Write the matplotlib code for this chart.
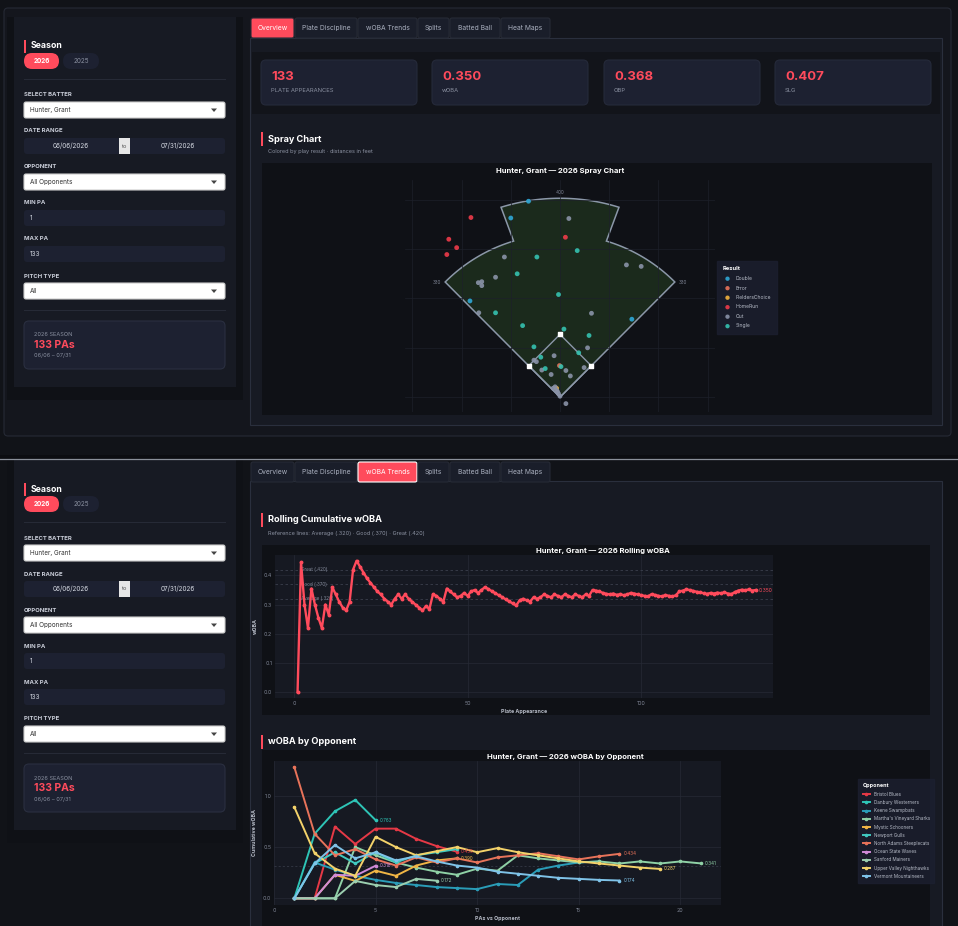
import numpy as np
import matplotlib.pyplot as plt
from matplotlib.patches import FancyBboxPatch, Rectangle, Polygon

plt.rcParams['font.family'] = ['Inter', 'DejaVu Sans']

W, H = 958, 926
BG = '#111318'
PANEL = '#171a23'
CARD = '#1d2131'
PLOT = '#161922'
RED = '#ff4b5c'
GRID = '#262a36'
TXT = '#d6dae3'
MUTED = '#8a90a0'

# ---------------- data ----------------
stat_values = ['133', '0.350', '0.368', '0.407']
stat_labels = ['PLATE APPEARANCES', 'wOBA', 'OBP', 'SLG']
tabs = ['Overview', 'Plate Discipline', 'wOBA Trends', 'Splits', 'Batted Ball', 'Heat Maps']

# spray chart hit locations (feet, home plate at origin)
results = ['Double', 'Error', 'FieldersChoice', 'HomeRun', 'Out', 'Single']
result_colors = ['#2fa8d6', '#e8735a', '#f2b33d', '#ef3b4a', '#8a93a8', '#35c2b0']
hr_x = [-181, -226, -210, -230, 11]
hr_y = [364, 320, 303, 289, 324]
dbl_x = [-64, -100, -183, 146]
dbl_y = [397, 363, 195, 158]
sgl_x = [35, -47, -87, -3, -131, -76, 8, 59, -53, 38, -39, 2, -30]
sgl_y = [297, 284, 250, 208, 171, 145, 138, 125, 102, 90, 81, 62, 58]
out_x = [18, -113, 135, 165, -131, -166, -159, -159, -165, 64, 56, -12, -48, -53, -37, 12, 21, -18, 49,
         -10, -7, -3, 0, -5, -14, 12]
out_y = [362, 284, 268, 265, 243, 232, 234, 226, 171, 170, 100, 84, 72, 75, 55, 54, 43, 46, 60,
         21, 14, 7, 2, 11, 18, -13]
err_x = [-1]
err_y = [64]
fc_x = [-7]
fc_y = [18]

# rolling cumulative wOBA by plate appearance
rolling_woba = [0.0, 0.445, 0.30, 0.22, 0.355, 0.30, 0.255, 0.22, 0.30, 0.265,
                0.36, 0.335, 0.31, 0.29, 0.28, 0.31, 0.42, 0.45, 0.43, 0.41,
                0.39, 0.375, 0.36, 0.345, 0.335, 0.32, 0.31, 0.30, 0.32, 0.335,
                0.32, 0.335, 0.32, 0.31, 0.30, 0.29, 0.28, 0.295, 0.285, 0.335,
                0.33, 0.32, 0.31, 0.355, 0.345, 0.335, 0.325, 0.33, 0.34, 0.33,
                0.345, 0.35, 0.34, 0.35, 0.36, 0.353, 0.346, 0.339, 0.332, 0.325,
                0.318, 0.311, 0.304, 0.297, 0.315, 0.32, 0.315, 0.31, 0.325, 0.32,
                0.325, 0.335, 0.33, 0.325, 0.335, 0.33, 0.325, 0.335, 0.33, 0.325,
                0.335, 0.33, 0.325, 0.335, 0.33, 0.35, 0.348, 0.345, 0.34, 0.337,
                0.335, 0.338, 0.333, 0.336, 0.332, 0.335, 0.34, 0.338, 0.335, 0.332,
                0.33, 0.328, 0.336, 0.333, 0.33, 0.328, 0.333, 0.33, 0.328, 0.332,
                0.345, 0.348, 0.352, 0.35, 0.347, 0.344, 0.342, 0.339, 0.337, 0.34,
                0.338, 0.341, 0.339, 0.342, 0.338, 0.336, 0.343, 0.348, 0.351, 0.349,
                0.352, 0.348, 0.350]
ref_vals = [0.32, 0.37, 0.42]
ref_names = ['Average (.320)', 'Good (.370)', 'Great (.420)']

# cumulative wOBA vs each opponent
opponents = ['Bristol Blues', 'Danbury Westerners', 'Keene Swampbats', "Martha's Vineyard Sharks",
             'Mystic Schooners', 'Newport Gulls', 'North Adams Steeplecats', 'Ocean State Waves',
             'Sanford Mainers', 'Upper Valley Nighthawks', 'Vermont Mountaineers']
opp_colors = ['#e63946', '#2ec4b6', '#2a9db8', '#8fd1a6', '#f0b545', '#40c9c0', '#e8735a',
              '#d08ad8', '#9ccfb0', '#f3d26a', '#7fc3e8']
opp_woba = [
    [0.0, 0.0, 0.70, 0.53, 0.68, 0.68, 0.58, 0.51, 0.455],
    [0.0, 0.63, 0.85, 0.96, 0.763],
    [0.0, 0.35, 0.28, 0.22, 0.18, 0.15, 0.13, 0.11, 0.10, 0.09, 0.14, 0.13, 0.28, 0.32, 0.35, 0.36],
    [0.0, 0.0, 0.0, 0.50, 0.42, 0.35, 0.30, 0.26, 0.23, 0.29, 0.27, 0.42, 0.39, 0.37, 0.35, 0.36,
     0.34, 0.36, 0.34, 0.36, 0.341],
    [0.0, 0.0, 0.23, 0.17, 0.27, 0.22, 0.32, 0.37, 0.39],
    [0.0, 0.34, 0.45, 0.34, 0.45, 0.35, 0.42, 0.45, 0.48],
    [1.28, 0.63, 0.42, 0.48, 0.38, 0.32, 0.40, 0.35, 0.39, 0.35, 0.40, 0.42, 0.44, 0.41, 0.38,
     0.41, 0.434],
    [0.0, 0.0, 0.23, 0.22, 0.318],
    [0.0, 0.0, 0.0, 0.17, 0.13, 0.11, 0.19, 0.172],
    [0.89, 0.44, 0.29, 0.22, 0.60, 0.50, 0.42, 0.46, 0.50, 0.45, 0.49, 0.45, 0.42, 0.39, 0.36,
     0.34, 0.32, 0.30, 0.287],
    [0.0, 0.34, 0.52, 0.39, 0.45, 0.37, 0.41, 0.36, 0.32, 0.30, 0.26, 0.24, 0.22, 0.20, 0.19,
     0.18, 0.174],
]
opp_end_labels = ['0.455', '0.763', None, '0.341', '0.390', None, '0.434', '0.318', '0.172',
                  '0.287', '0.174']


def R(x, y, w, h):
    return [x / W, 1 - (y + h) / H, w / W, h / H]


def box(ax, x, y, w, h, fc, ec='none', r=3, lw=0.8, z=1):
    ax.add_patch(FancyBboxPatch((x, y), w, h, boxstyle=f'round,pad=0,rounding_size={r}',
                                fc=fc, ec=ec, lw=lw, zorder=z))


fig = plt.figure(figsize=(W / 100, H / 100), dpi=100, facecolor=BG)
ui = fig.add_axes([0, 0, 1, 1])
ui.set_xlim(0, W)
ui.set_ylim(H, 0)
ui.axis('off')


def sidebar(dy, z):
    ui.add_patch(Rectangle((24, 40 + dy), 2, 13, fc=RED, zorder=z))
    ui.text(31, 46 + dy, 'Season', color='white', fontsize=6.3, weight='bold', va='center', zorder=z + 1)
    box(ui, 24, 53 + dy, 35, 16, RED, r=8, z=z)
    ui.text(41.5, 61 + dy, '2026', color='white', fontsize=4.6, ha='center', va='center',
            weight='bold', zorder=z + 1)
    box(ui, 63, 53 + dy, 36, 16, CARD, r=8, z=z)
    ui.text(81, 61 + dy, '2025', color=MUTED, fontsize=4.6, ha='center', va='center', zorder=z + 1)
    ui.plot([24, 225], [79 + dy, 79 + dy], color='#272b37', lw=0.7, zorder=z)
    for lab, yy in [('SELECT BATTER', 95), ('DATE RANGE', 131), ('OPPONENT', 167), ('MIN PA', 203),
                    ('MAX PA', 239), ('PITCH TYPE', 276)]:
        ui.text(24, yy + dy, lab, color='#c9cdd8', fontsize=4.3, va='center', weight='bold', zorder=z + 1)
    for txt, yy in [('Hunter, Grant', 102), ('All Opponents', 174), ('All', 283)]:
        box(ui, 24, yy + dy, 201, 16, 'white', ec='#cccccc', r=2, z=z)
        ui.text(30, yy + 8 + dy, txt, color='#333', fontsize=4.6, va='center', zorder=z + 1)
        ui.add_patch(Polygon([[211, yy + 6.5 + dy], [217, yy + 6.5 + dy], [214, yy + 10 + dy]],
                             fc='#444', zorder=z + 1))
    box(ui, 24, 138 + dy, 201, 16, CARD, r=3, z=z)
    ui.add_patch(Rectangle((119, 138 + dy), 11, 16, fc='#e6e6e6', zorder=z + 1))
    ui.text(124.5, 146 + dy, 'to', color='#555', fontsize=4.3, ha='center', va='center', zorder=z + 2)
    ui.text(71, 146 + dy, '06/06/2026', color=TXT, fontsize=4.6, ha='center', va='center', zorder=z + 2)
    ui.text(178, 146 + dy, '07/31/2026', color=TXT, fontsize=4.6, ha='center', va='center', zorder=z + 2)
    for txt, yy in [('1', 210), ('133', 246)]:
        box(ui, 24, yy + dy, 201, 16, CARD, r=3, z=z)
        ui.text(30, yy + 8 + dy, txt, color=TXT, fontsize=4.6, va='center', zorder=z + 2)
    ui.plot([24, 225], [310 + dy, 310 + dy], color='#272b37', lw=0.7, zorder=z)
    box(ui, 24, 321 + dy, 201, 48, CARD, ec='#2a2f40', r=5, z=z)
    ui.text(34, 335 + dy, '2026 SEASON', color=MUTED, fontsize=4.0, va='center', zorder=z + 2)
    ui.text(34, 345 + dy, '133 PAs', color=RED, fontsize=7.5, weight='bold', va='center', zorder=z + 2)
    ui.text(34, 356 + dy, '06/06 – 07/31', color=MUTED, fontsize=4.0, va='center', zorder=z + 2)


def tabbar(y0, active, outline):
    edges = [251, 295, 358, 418, 450, 501, 551]
    for i, t in enumerate(tabs):
        x0, x1 = edges[i], edges[i + 1] - 1
        act = i == active
        box(ui, x0, y0, x1 - x0, 20, RED if act else '#1a1e2a',
            ec='white' if (act and outline) else '#262a35', r=2, z=5)
        ui.text((x0 + x1) / 2, y0 + 10, t, color='white' if act else '#aab0bf', fontsize=4.8,
                ha='center', va='center', zorder=6)


def header(x, y, title, sub=None):
    ui.add_patch(Rectangle((x, y - 7), 2, 14, fc=RED, zorder=5))
    ui.text(x + 7, y, title, color='white', fontsize=6.6, weight='bold', va='center', zorder=5)
    if sub:
        ui.text(x + 7, y + 13, sub, color=MUTED, fontsize=4.0, va='center', zorder=5)


# ---- top screenshot ----
box(ui, 4, 8, 947, 428, '#14161d', ec='#262a35', r=4)
ui.add_patch(Rectangle((7, 17), 236, 383, fc='#0f1116', zorder=1))
ui.add_patch(Rectangle((14, 17), 222, 370, fc=PANEL, zorder=1))
sidebar(0, 2)
ui.add_patch(Rectangle((250, 38), 692, 387, fc=PANEL, ec='#2a2f3d', lw=0.8, zorder=1))
tabbar(18, 0, False)
ui.add_patch(Rectangle((252, 52), 688, 62, fc='#12141a', zorder=1))
for i, x0 in enumerate([261, 432, 604, 775]):
    box(ui, x0, 60, 156, 45, CARD, ec='#252a3a', r=5, z=2)
    ui.text(x0 + 10, 77, stat_values[i], color=RED, fontsize=9.5, weight='bold', va='center', zorder=3)
    ui.text(x0 + 10, 91, stat_labels[i], color=MUTED, fontsize=4.2, va='center', zorder=3)
header(261, 139, 'Spray Chart', 'Colored by play result · distances in feet')
ui.add_patch(Rectangle((262, 163), 670, 252, fc='#0f1116', zorder=1))
ui.text(560, 171, 'Hunter, Grant — 2026 Spray Chart', color='white', fontsize=5.5, weight='bold',
        ha='center', va='center', zorder=3)

# ---- separator ----
ui.add_patch(Rectangle((0, 455), W, 4, fc='#0c0d11', zorder=2))
ui.plot([0, W], [459, 459], color='#8a8f99', lw=0.9, zorder=3)

# ---- bottom screenshot ----
ui.add_patch(Rectangle((7, 460), 236, 383, fc='#0f1116', zorder=2))
ui.add_patch(Rectangle((14, 460), 222, 370, fc=PANEL, zorder=2))
sidebar(443, 3)
ui.add_patch(Rectangle((250, 481), 692, 450, fc=PANEL, ec='#2a2f3d', lw=0.8, zorder=2))
tabbar(462, 2, True)
header(261, 520, 'Rolling Cumulative wOBA',
       'Reference lines: Average (.320) · Good (.370) · Great (.420)')
header(261, 742, 'wOBA by Opponent')
ui.add_patch(Rectangle((262, 545), 668, 170, fc='#0f1116', zorder=3))
ui.add_patch(Rectangle((262, 750), 668, 176, fc='#0f1116', zorder=3))
ui.text(603, 551, 'Hunter, Grant — 2026 Rolling wOBA', color='white', fontsize=5.5, weight='bold',
        ha='center', va='center', zorder=4)
ui.text(565, 757, 'Hunter, Grant — 2026 wOBA by Opponent', color='white', fontsize=5.5, weight='bold',
        ha='center', va='center', zorder=4)


def style(ax):
    ax.set_facecolor(PLOT)
    for s in ax.spines.values():
        s.set_visible(False)
    ax.tick_params(colors='#7f8595', labelsize=3.8, length=0, pad=2)
    ax.grid(True, color=GRID, lw=0.5)
    ax.set_axisbelow(True)


# ---- spray chart ----
sp = fig.add_axes(R(405, 180, 310, 232))
sp.set_facecolor('#0f1116')
for s in sp.spines.values():
    s.set_visible(False)
sp.set_xlim(-315, 315)
sp.set_ylim(-30, 440)
sp.set_xticks(np.arange(-300, 301, 100))
sp.set_yticks(np.arange(0, 401, 100))
sp.grid(True, color='#1d2029', lw=0.5)
sp.tick_params(length=0, labelbottom=False, labelleft=False)
a1 = np.linspace(np.radians(135), np.radians(106.6), 30)
a2 = np.linspace(np.radians(107.3), np.radians(72.7), 40)
a3 = np.linspace(np.radians(73.4), np.radians(45), 30)
wall = [(0, 0)]
wall += [(330 * np.cos(a), 330 * np.sin(a)) for a in a1]
wall += [(403 * np.cos(a), 403 * np.sin(a)) for a in a2]
wall += [(330 * np.cos(a), 330 * np.sin(a)) for a in a3]
sp.add_patch(Polygon(wall, closed=True, fc='#1b2a1c', ec='#8b97a8', lw=1.1, zorder=1))
diamond = [(0, 0), (63.6, 63.6), (0, 127.3), (-63.6, 63.6)]
sp.add_patch(Polygon(diamond, closed=True, fill=False, ec='#8b97a8', lw=1.0, zorder=2))
sp.scatter([d[0] for d in diamond[1:]], [d[1] for d in diamond[1:]], marker='s', s=9, c='white', zorder=5)
sp.text(0, 412, '400', color='#7f8595', fontsize=3.3, ha='center')
sp.text(-250, 233, '330', color='#7f8595', fontsize=3.3, ha='center', va='center')
sp.text(250, 233, '330', color='#7f8595', fontsize=3.3, ha='center', va='center')
groups = [(dbl_x, dbl_y), (err_x, err_y), (fc_x, fc_y), (hr_x, hr_y), (out_x, out_y), (sgl_x, sgl_y)]
for (gx, gy), lab, col in zip(groups, results, result_colors):
    sp.scatter(gx, gy, s=12, color=col, alpha=0.9, edgecolors='none', zorder=6, label=lab)
leg = sp.legend(title='Result', loc='upper left', bbox_to_anchor=(716 / W, 1 - 260 / H),
                bbox_transform=fig.transFigure, fontsize=3.6, title_fontsize=4.2, frameon=True,
                facecolor='#1c2030', edgecolor='#1c2030', labelcolor='#b8bdc9', markerscale=0.9,
                handletextpad=0.6, borderpad=0.8, labelspacing=0.9, alignment='left')
leg.get_title().set_color('white')
leg.get_title().set_weight('bold')
leg.get_frame().set_boxstyle('square')

# ---- rolling wOBA ----
rw = fig.add_axes(R(275, 555, 498, 143))
style(rw)
pa = np.arange(1, len(rolling_woba) + 1)
rw.plot(pa, rolling_woba, color=RED, lw=1.7, marker='o', ms=1.8, zorder=4)
for v, n in zip(ref_vals, ref_names):
    rw.axhline(v, color='#3a3f4c', lw=0.6, ls=(0, (3, 3)), zorder=2)
    rw.text(2, v, n, color='#7f8595', fontsize=3.3, va='center', zorder=3)
rw.text(pa[-1] + 1, rolling_woba[-1], '0.350', color=RED, fontsize=3.6, va='center')
rw.set_xlim(-5.5, 138)
rw.set_ylim(-0.02, 0.47)
rw.set_xticks([0, 50, 100])
rw.set_yticks([0, 0.1, 0.2, 0.3, 0.4])
rw.set_xlabel('Plate Appearance', color='#b8bdc9', fontsize=3.8, labelpad=2, weight='bold')
rw.set_ylabel('wOBA', color='#b8bdc9', fontsize=3.8, labelpad=4, weight='bold')

# ---- wOBA by opponent ----
ow = fig.add_axes(R(274, 761, 447, 144))
style(ow)
for name, col, vals, lab in zip(opponents, opp_colors, opp_woba, opp_end_labels):
    xs = np.arange(1, len(vals) + 1)
    ow.plot(xs, vals, color=col, lw=1.4, marker='o', ms=1.6, label=name, zorder=4)
    if lab:
        ow.text(xs[-1] + 0.2, vals[-1], lab, color=col, fontsize=3.3, va='center', zorder=5)
ow.axhline(0.32, color='#3a3f4c', lw=0.5, ls=(0, (3, 3)), zorder=2)
ow.set_xlim(0, 22)
ow.set_ylim(-0.065, 1.34)
ow.set_xticks([0, 5, 10, 15, 20])
ow.set_yticks([0, 0.5, 1.0])
ow.set_xlabel('PAs vs Opponent', color='#b8bdc9', fontsize=3.8, labelpad=2, weight='bold')
ow.set_ylabel('Cumulative wOBA', color='#b8bdc9', fontsize=3.8, labelpad=4, weight='bold')
leg2 = ow.legend(title='Opponent', loc='upper left', bbox_to_anchor=(857 / W, 1 - 778 / H),
                 bbox_transform=fig.transFigure, fontsize=3.3, title_fontsize=3.9, frameon=True,
                 facecolor='#1c2030', edgecolor='#1c2030', labelcolor='#b8bdc9',
                 handlelength=1.6, labelspacing=0.7, borderpad=0.7, alignment='left')
leg2.get_title().set_color('white')
leg2.get_title().set_weight('bold')
leg2.get_frame().set_boxstyle('square')

fig.savefig('out.png', dpi=100, facecolor=BG)
